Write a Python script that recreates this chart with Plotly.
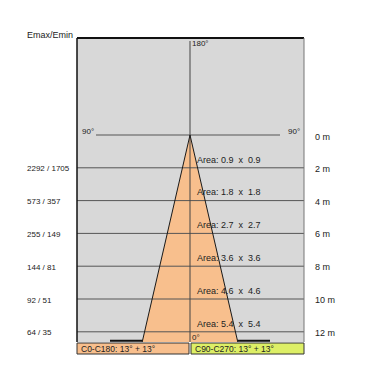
import math
import plotly.graph_objects as go

# ---- data ----
distances_m = [2, 4, 6, 8, 10, 12]
emax_emin = ["2292 / 1705", "573 / 357", "255 / 149", "144 / 81", "92 / 51", "64 / 35"]
area_sizes = [0.9, 1.8, 2.7, 3.6, 4.6, 5.4]
half_angle_c0_c180 = 13
half_angle_c90_c270 = 13
distance_labels = ["0 m", "2 m", "4 m", "6 m", "8 m", "10 m", "12 m"]

# ---- layout geometry (pixels) ----
W = H = 380
L, R, T, B = 77, 304, 38, 342
PXM = 16.4          # pixels per metre
CX, CY = 190, 135   # apex pixel
x_rng = [(L - CX) / PXM, (R - CX) / PXM]
y_rng = [(B - CY) / PXM, (T - CY) / PXM]   # reversed
y_max = y_rng[0]

def px(x):
    return (x - L) / (R - L)

def py(y):
    return (B - y) / (B - T)

GRAY = "#d8d8d8"
ORANGE = "#f8bf8d"
YELLOW = "#ddef66"
TXT = "#222222"
FONT = "Liberation Sans, Arial, sans-serif"

fig = go.Figure()

# bottom dark line (0° base)
fig.add_trace(go.Scatter(x=[-80 / PXM, 80 / PXM], y=[y_max - 0.07, y_max - 0.07], mode="lines",
                         line=dict(color="#111111", width=2), hoverinfo="skip"))

# beam cone
t = math.tan(math.radians(half_angle_c0_c180))
fig.add_trace(go.Scatter(x=[0, -y_max * t, y_max * t, 0], y=[0, y_max, y_max, 0], mode="lines",
                         fill="toself", fillcolor=ORANGE, line=dict(width=0), hoverinfo="skip"))

# distance lines
for d in distances_m:
    fig.add_trace(go.Scatter(x=x_rng, y=[d, d], mode="lines",
                             line=dict(color="#555555", width=1), hoverinfo="skip"))
# 90-90 line
fig.add_trace(go.Scatter(x=[(96 - CX) / PXM, (280 - CX) / PXM], y=[0, 0], mode="lines",
                         line=dict(color="#555555", width=1), hoverinfo="skip"))
# 180-0 line
fig.add_trace(go.Scatter(x=[0, 0], y=[(41 - CY) / PXM, y_max], mode="lines",
                         line=dict(color="#444444", width=1), hoverinfo="skip"))
# cone edges
for s in (-1, 1):
    fig.add_trace(go.Scatter(x=[0, s * y_max * t], y=[0, y_max], mode="lines",
                             line=dict(color="#1a1a1a", width=1), hoverinfo="skip"))

ann = []
def A(text, x, y, xref="paper", yref="paper", xanchor="left", size=8, color=TXT):
    ann.append(dict(text=text, x=x, y=y, xref=xref, yref=yref, xanchor=xanchor, yanchor="middle",
                    showarrow=False, font=dict(family=FONT, size=size, color=color)))

A("Emax/Emin", px(25), py(35), size=9)
A("180°", 0, py(43), xref="x", size=8)
A("90°", px(80), py(131), size=8)
A("90°", px(302), py(131), xanchor="right", size=8)
A("0°", 0, py(337), xref="x", size=8)
A(distance_labels[0], px(313), py(137), size=9)
for i, d in enumerate(distances_m):
    ypx = CY + d * PXM
    A(distance_labels[i + 1], px(313), py(ypx + 1), size=9)
    A(emax_emin[i], px(25), py(ypx + 1), size=8)
    A(f"Area:\u00a0{area_sizes[i]}\u00a0\u00a0x\u00a0\u00a0{area_sizes[i]}", 5 / PXM, d - 0.5,
      xref="x", yref="y", size=9)

# bottom boxes
shapes = [
    dict(type="rect", xref="paper", yref="paper", x0=px(L), x1=px(189), y0=py(354), y1=py(343),
         fillcolor=ORANGE, line=dict(color="#333333", width=1)),
    dict(type="rect", xref="paper", yref="paper", x0=px(191), x1=px(R), y0=py(354), y1=py(343),
         fillcolor=YELLOW, line=dict(color="#333333", width=1)),
    # plot frame
    dict(type="line", xref="paper", yref="paper", x0=0, x1=1, y0=1, y1=1, line=dict(color="#111111", width=2)),
    dict(type="line", xref="paper", yref="paper", x0=0, x1=0, y0=0, y1=1, line=dict(color="#111111", width=1.5)),
    dict(type="line", xref="paper", yref="paper", x0=1, x1=1, y0=0, y1=1, line=dict(color="#777777", width=1)),
]
A(f"C0-C180: {half_angle_c0_c180}° + {half_angle_c0_c180}°", px(79), py(349), size=8.5)
A(f"C90-C270: {half_angle_c90_c270}° + {half_angle_c90_c270}°", px(193), py(349), size=8.5)

fig.update_layout(
    width=W, height=H, margin=dict(l=L, r=W - R, t=T, b=H - B),
    paper_bgcolor="white", plot_bgcolor=GRAY, showlegend=False,
    xaxis=dict(range=x_rng, visible=False, fixedrange=True),
    yaxis=dict(range=y_rng, visible=False, fixedrange=True),
    annotations=ann, shapes=shapes,
)
fig.write_html("out.html", config={"displayModeBar": False})
